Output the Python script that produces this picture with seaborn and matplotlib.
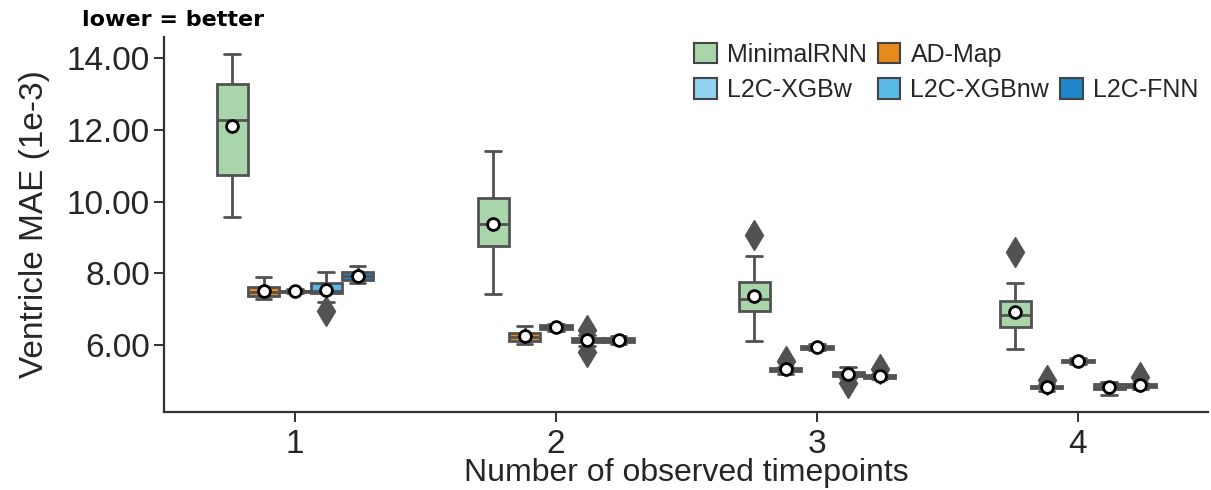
import matplotlib
matplotlib.use('Agg')
import matplotlib.pyplot as plt
from matplotlib.patches import Patch
import seaborn as sns
import pandas as pd

# ------------------------
# Datos (MAE ventrículos, 1e-3)
# ------------------------
timepoints = ['1', '2', '3', '4']
models = ['MinimalRNN', 'AD-Map', 'L2C-XGBw', 'L2C-XGBnw', 'L2C-FNN']
colors = ['#a8d5aa', '#e68a1e', '#8fd3f1', '#58b9e6', '#1e86c8']

minimalrnn = [
    [9.57, 10.3, 10.74, 11.6, 12.27, 13.03, 13.27, 14.0, 14.12],
    [7.42, 8.2, 8.76, 9.1, 9.37, 9.6, 10.1, 10.5, 11.4],
    [6.11, 6.4, 6.95, 7.0, 7.28, 7.4, 7.75, 8.48, 9.06],
    [5.89, 6.0, 6.5, 6.55, 6.84, 6.9, 7.23, 7.73, 8.59],
]
ad_map = [
    [7.28, 7.32, 7.36, 7.42, 7.48, 7.55, 7.62, 7.66, 7.89],
    [6.03, 6.08, 6.11, 6.17, 6.22, 6.27, 6.33, 6.42, 6.53],
    [5.2, 5.24, 5.27, 5.3, 5.32, 5.34, 5.36, 5.4, 5.55],
    [4.72, 4.76, 4.79, 4.81, 4.83, 4.85, 4.87, 4.9, 5.03],
]
l2c_xgbw = [
    [7.45, 7.47, 7.48, 7.49, 7.50, 7.51, 7.52, 7.53, 7.55],
    [6.40, 6.43, 6.45, 6.48, 6.50, 6.53, 6.56, 6.58, 6.60],
    [5.86, 5.88, 5.90, 5.92, 5.94, 5.96, 5.98, 6.00, 6.02],
    [5.47, 5.50, 5.52, 5.54, 5.55, 5.57, 5.59, 5.61, 5.64],
]
l2c_xgbnw = [
    [6.95, 7.2, 7.45, 7.48, 7.52, 7.6, 7.73, 7.85, 8.03],
    [5.8, 5.98, 6.09, 6.12, 6.14, 6.17, 6.2, 6.28, 6.42],
    [4.93, 5.08, 5.15, 5.18, 5.2, 5.22, 5.25, 5.3, 5.38],
    [4.62, 4.72, 4.78, 4.81, 4.83, 4.86, 4.9, 4.93, 4.96],
]
l2c_fnn = [
    [7.72, 7.77, 7.81, 7.87, 7.92, 7.97, 8.03, 8.1, 8.2],
    [6.02, 6.05, 6.08, 6.11, 6.14, 6.17, 6.2, 6.22, 6.25],
    [5.04, 5.07, 5.09, 5.11, 5.13, 5.15, 5.17, 5.2, 5.33],
    [4.78, 4.81, 4.83, 4.86, 4.88, 4.9, 4.92, 4.95, 5.1],
]
y_ticks = [6, 8, 10, 12, 14]

# tabla larga para seaborn
rows = []
for name, series in zip(models, [minimalrnn, ad_map, l2c_xgbw, l2c_xgbnw, l2c_fnn]):
    for tp, vals in zip(timepoints, series):
        for v in vals:
            rows.append({'tp': tp, 'mae': v, 'model': name})
df = pd.DataFrame(rows)

# ------------------------
# Gráfica
# ------------------------
sns.set_style('ticks')
plt.rcParams['font.family'] = ['Liberation Sans', 'DejaVu Sans']
line_col = '#525252'
axis_col = '#333333'

fig = plt.figure(figsize=(12.11, 4.9), dpi=100)
ax = fig.add_axes([0.1358, 0.159, 0.862, 0.7655])

sns.boxplot(data=df, x='tp', y='mae', hue='model', order=timepoints, hue_order=models,
            palette=colors, saturation=1, width=0.6, linewidth=2, linecolor=line_col,
            showmeans=True,
            meanprops={'marker': 'o', 'markerfacecolor': 'white', 'markeredgecolor': 'black',
                       'markersize': 8.5, 'markeredgewidth': 2, 'zorder': 5},
            flierprops={'marker': 'd', 'markerfacecolor': line_col, 'markeredgecolor': line_col,
                        'markersize': 15, 'zorder': 1},
            legend=False, ax=ax)

ax.set_xlim(-0.5, 3.5)
ax.set_ylim(4.13, 14.59)
ax.set_yticks(y_ticks)
ax.set_yticklabels([f'{t:.2f}' for t in y_ticks])
ax.tick_params(axis='both', labelsize=24, length=7, width=1.4, color=axis_col, labelcolor='#262626')
ax.tick_params(axis='x', pad=5)
ax.set_xlabel('Number of observed timepoints', fontsize=23, color='#262626', labelpad=-1)
ax.set_ylabel('Ventricle MAE (1e-3)', fontsize=24, color='#262626', labelpad=12)
for side in ['left', 'bottom']:
    ax.spines[side].set_linewidth(1.6)
    ax.spines[side].set_color(axis_col)
sns.despine(ax=ax)

# leyenda en 3 columnas con un hueco
handles = [Patch(facecolor=c, edgecolor='#444444', linewidth=1.5, label=m) for m, c in zip(models, colors)]
blank = Patch(visible=False, label='')
order = [handles[0], handles[2], handles[1], handles[3], blank, handles[4]]
ax.legend(handles=order, labels=[h.get_label() for h in order], ncol=3, frameon=False,
          loc='upper right', bbox_to_anchor=(1.012, 1.045), fontsize=18,
          handlelength=0.9, handleheight=0.9, handletextpad=0.4, columnspacing=0.45,
          labelspacing=0.45)

fig.text(82 / 1211, 1 - 20 / 490, 'lower = better', fontsize=16, fontweight='bold',
         family='DejaVu Sans', ha='left', va='center', color='black')

fig.savefig('out.png', dpi=100)
